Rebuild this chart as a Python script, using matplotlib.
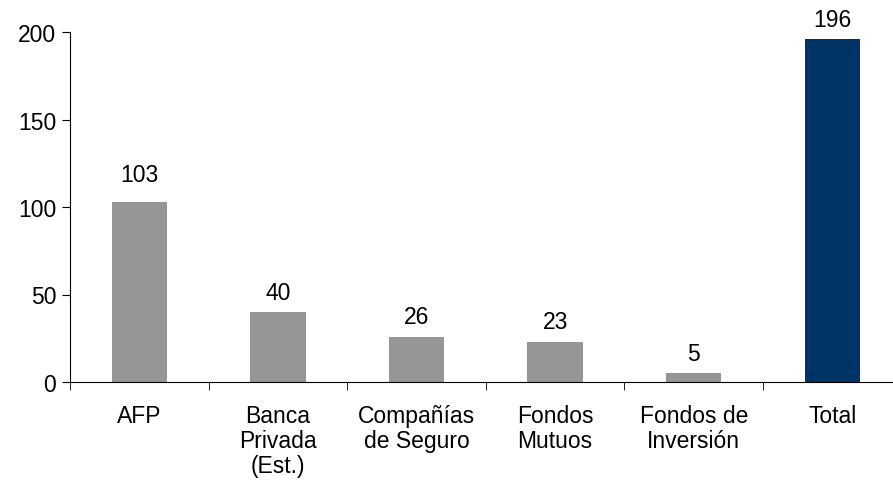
import matplotlib.pyplot as plt
import numpy as np

plt.rcParams['font.family'] = ['Liberation Sans', 'DejaVu Sans']

categories = ['AFP', 'Banca\nPrivada\n(Est.)', 'Compañías\nde Seguro', 'Fondos\nMutuos',
              'Fondos de\nInversión', 'Total']
values = [103, 40, 26, 23, 5, 196]
colors = ['#969696'] * 5 + ['#003366']
# label gap above bar, in points (AFP label sits a bit higher in the original)
label_gap = [11, 6, 6, 6, 6, 6]

fig = plt.figure(figsize=(8.93, 4.85), dpi=100)
ax = fig.add_axes([70 / 893, 102 / 485, 831.6 / 893, 350 / 485])

x = np.arange(len(categories))
ax.bar(x, values, width=0.4, color=colors, zorder=2)

# value labels above each bar
for xi, v, g in zip(x, values, label_gap):
    ax.annotate(str(v), (xi, v), xytext=(0, g), textcoords='offset points',
                ha='center', va='bottom', fontsize=16.5)

ax.set_xlim(-0.5, len(categories) - 0.5)
ax.set_ylim(0, 200)
ax.set_yticks([0, 50, 100, 150, 200])
ax.tick_params(axis='y', labelsize=16.5, length=6, direction='out', pad=4)

# category labels at centres, tick marks between categories
ax.set_xticks(x)
ax.set_xticklabels(categories, fontsize=16.5, linespacing=1.1)
ax.tick_params(axis='x', which='major', length=0, pad=16)
ax.set_xticks(np.arange(len(categories)) - 0.5, minor=True)
ax.tick_params(axis='x', which='minor', length=6, direction='out')

ax.spines['top'].set_visible(False)
ax.spines['right'].set_visible(False)

fig.savefig('out.png', dpi=100)
